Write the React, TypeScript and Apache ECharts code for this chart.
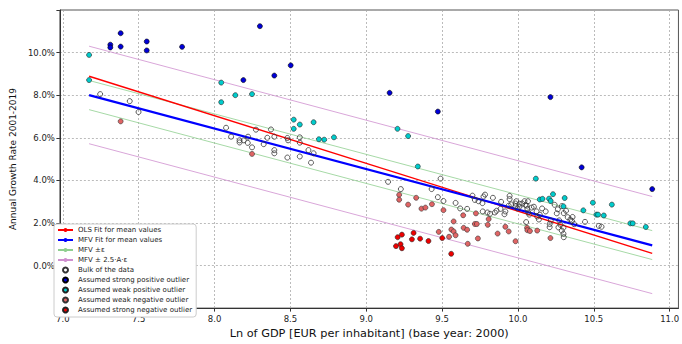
import React, { useEffect, useRef } from 'react';
import * as echarts from 'echarts';

const xTickValues = [7.0, 7.5, 8.0, 8.5, 9.0, 9.5, 10.0, 10.5, 11.0];

const fitX = [7.173, 10.885];
const olsY = [8.89, 0.57];
const mfvY = [8.0, 0.95];
const mfvPlusEpsY = [8.69, 1.64];
const mfvMinusEpsY = [7.32, 0.28];
const mfvPlusBandY = [10.3, 3.24];
const mfvMinusBandY = [5.72, -1.32];

const bulkPoints: [number, number][] = [
  [7.246, 8.05], [7.441, 7.72], [7.499, 7.21], [8.076, 6.47], [8.109, 6.05], [8.165, 5.88],
  [8.165, 5.78], [8.193, 5.88], [8.221, 6.05], [8.219, 5.76], [8.247, 5.55], [8.273, 6.38],
  [8.324, 5.70], [8.348, 6.0], [8.372, 6.39], [8.394, 6.05], [8.394, 5.42], [8.394, 5.27],
  [8.48, 5.99], [8.485, 5.88], [8.48, 5.07], [8.562, 6.02], [8.562, 5.77], [8.562, 5.12],
  [8.619, 5.42], [8.653, 5.27], [8.636, 4.83],
  [9.144, 3.93], [9.228, 3.59], [9.431, 3.59], [9.472, 3.21], [9.49, 4.08], [9.509, 3.03],
  [9.589, 2.94], [9.619, 2.68], [9.665, 2.66],
  [9.7, 3.28], [9.716, 3.08], [9.74, 3.02], [9.766, 2.93], [9.773, 3.24], [9.783, 3.33],
  [9.768, 2.54], [9.799, 2.49], [9.816, 2.43], [9.835, 3.18], [9.848, 2.49], [9.859, 2.57],
  [9.889, 2.99], [9.885, 2.66], [9.911, 2.41], [9.917, 2.54], [9.945, 3.27], [9.945, 3.12],
  [9.939, 2.81], [9.956, 2.87], [9.984, 2.91], [9.984, 2.78], [9.989, 3.02], [9.997, 2.68],
  [10.01, 2.9], [10.01, 2.76], [10.028, 2.91], [10.043, 3.02], [10.049, 2.84], [10.058, 2.81],
  [10.062, 2.66], [10.066, 3.02], [10.068, 2.49], [10.075, 2.39], [10.054, 2.04], [10.09, 2.72],
  [10.105, 2.76], [10.123, 2.54], [10.127, 2.3], [10.138, 2.16], [10.144, 2.39], [10.159, 2.68],
  [10.183, 2.54], [10.209, 1.8], [10.209, 1.95], [10.216, 2.11], [10.242, 2.85], [10.256, 2.45],
  [10.263, 2.64], [10.289, 2.79], [10.272, 2.12], [10.28, 1.91], [10.267, 1.79], [10.289, 1.64],
  [10.3, 1.49], [10.302, 1.33], [10.3, 1.78], [10.302, 2.46], [10.317, 2.57], [10.328, 2.27],
  [10.345, 2.16], [10.36, 2.28], [10.356, 2.09], [10.371, 1.94], [10.442, 2.05], [10.533, 1.86],
  [10.551, 1.82],
];

const strongPositivePoints: [number, number][] = [
  [7.313, 10.37], [7.313, 10.24], [7.381, 10.91], [7.381, 10.28], [7.553, 10.52], [7.553, 10.1],
  [7.786, 10.27], [8.19, 8.71], [8.299, 11.24], [8.394, 8.92], [8.502, 9.4], [9.154, 8.11],
  [9.472, 7.23], [10.214, 7.91], [10.42, 4.61], [10.885, 3.59],
];

const weakPositivePoints: [number, number][] = [
  [7.173, 9.89], [7.173, 8.71], [8.044, 8.59], [8.044, 7.67], [8.137, 8.0], [8.247, 8.05],
  [8.522, 6.85], [8.522, 6.42], [8.562, 6.62], [8.653, 6.73], [8.688, 5.93], [8.723, 5.91],
  [8.787, 6.02], [9.206, 6.42], [9.276, 6.08], [9.34, 4.65], [10.118, 4.08], [10.144, 3.1],
  [10.162, 3.13], [10.205, 3.14], [10.216, 3.03], [10.231, 3.35], [10.308, 3.17], [10.3, 2.78],
  [10.431, 2.59], [10.494, 2.95], [10.517, 2.39], [10.528, 2.39], [10.566, 2.35], [10.619, 2.86],
  [10.741, 1.98], [10.757, 1.98], [10.843, 1.81],
];

const weakNegativePoints: [number, number][] = [
  [7.381, 6.77], [8.247, 5.24], [9.217, 3.32], [9.217, 3.09], [9.276, 2.86], [9.329, 3.18],
  [9.364, 2.67], [9.39, 2.72], [9.433, 2.88], [9.509, 2.6], [9.576, 2.07], [9.478, 1.58],
  [9.546, 1.35], [9.561, 1.69], [9.576, 1.6], [9.589, 1.42], [9.639, 2.36], [9.642, 1.77],
  [9.665, 1.68], [9.669, 1.02], [9.723, 2.45], [9.716, 1.95], [9.729, 1.95], [9.736, 1.27],
  [9.807, 2.18], [9.801, 1.91], [9.866, 1.5], [9.917, 1.82], [9.939, 1.6], [9.984, 1.14],
  [10.06, 1.77], [10.062, 1.66], [10.079, 1.62], [10.127, 1.64], [10.214, 1.29],
];

const strongNegativePoints: [number, number][] = [
  [9.207, 1.33], [9.235, 1.45], [9.312, 1.53], [9.301, 1.23], [9.355, 1.26], [9.41, 1.15],
  [9.196, 0.91], [9.226, 1.0], [9.235, 0.81], [9.501, 1.29], [9.56, 0.55],
];

const FONT = 'DejaVu Sans';

function pairs(xs: number[], ys: number[]) {
  return xs.map((x, i) => [x, ys[i]]);
}

function lineSeries(name: string, ys: number[], color: string, width: number, z: number) {
  return {
    type: 'line',
    name,
    data: pairs(fitX, ys),
    symbol: 'none',
    lineStyle: { color, width },
    itemStyle: { color },
    z,
    silent: true,
  };
}

function scatterSeries(name: string, data: [number, number][], fill: string, edge: string, edgeWidth: number) {
  return {
    type: 'scatter',
    name,
    data,
    symbol: 'circle',
    symbolSize: 5,
    itemStyle: { color: fill, borderColor: edge, borderWidth: edgeWidth, opacity: 1 },
    z: 5,
    silent: true,
  };
}

export default function App() {
  const ref = useRef<HTMLDivElement>(null);
  useEffect(() => {
    const chart = echarts.init(ref.current!, null, { renderer: 'svg' });
    const names = {
      ols: 'OLS Fit for mean values',
      mfv: 'MFV Fit for mean values',
      eps: 'MFV ±ε',
      band: 'MFV ± 2.5·A·ε',
      bulk: 'Bulk of the data',
      sp: 'Assumed strong positive outlier',
      wp: 'Assumed weak positive outlier',
      wn: 'Assumed weak negative outlier',
      sn: 'Assumed strong negative outlier',
    };
    const option: any = {
      animation: false,
      backgroundColor: '#ffffff',
      textStyle: { fontFamily: FONT },
      grid: {
        left: 52,
        right: 1,
        top: 10,
        bottom: 24,
        show: true,
        borderColor: '#555',
        borderWidth: 1,
        backgroundColor: 'transparent',
      },
      xAxis: {
        type: 'value',
        min: 6.9806,
        max: 11.058,
        name: 'Ln of GDP [EUR per inhabitant] (base year: 2000)',
        nameLocation: 'middle',
        nameGap: 11,
        nameTextStyle: { fontSize: 11.3, color: '#111', fontFamily: FONT, verticalAlign: 'top' },
        axisLine: { show: true, onZero: false, lineStyle: { color: '#333', width: 1 } },
        axisTick: { show: true, length: 3.5, customValues: xTickValues, lineStyle: { color: '#333' } },
        axisLabel: {
          customValues: xTickValues,
          formatter: (v: number) => v.toFixed(1),
          fontSize: 8.5,
          color: '#222',
          fontFamily: FONT,
          margin: 6,
        },
        splitLine: { show: true, lineStyle: { color: '#aaa', width: 0.8, type: [2, 2] } },
      },
      yAxis: {
        type: 'value',
        min: -2,
        max: 12,
        interval: 2,
        name: 'Annual Growth Rate 2001-2019',
        nameLocation: 'middle',
        nameGap: 32,
        nameTextStyle: { fontSize: 9, color: '#111', fontFamily: FONT },
        axisLine: { show: true, onZero: false, lineStyle: { color: '#333', width: 1 } },
        axisTick: { show: true, length: 3.5, lineStyle: { color: '#333' } },
        axisLabel: {
          formatter: (v: number) => (v <= -2 || v >= 12 ? '' : v.toFixed(1) + '%'),
          fontSize: 8.5,
          color: '#222',
          fontFamily: FONT,
          margin: 5,
        },
        splitLine: { show: true, lineStyle: { color: '#aaa', width: 0.8, type: [2, 2] } },
      },
      legend: {
        orient: 'vertical',
        left: 54,
        top: 224,
        padding: [1, 4, 2, 3],
        itemGap: 0,
        itemWidth: 15,
        itemHeight: 5,
        backgroundColor: '#ffffff',
        borderColor: '#cccccc',
        borderWidth: 1,
        borderRadius: 3,
        textStyle: { fontSize: 7, lineHeight: 10, color: '#222', fontFamily: FONT },
        data: [
          { name: names.ols },
          { name: names.mfv },
          { name: names.eps },
          { name: names.band },
          { name: names.bulk, icon: 'circle' },
          { name: names.sp, icon: 'circle' },
          { name: names.wp, icon: 'circle' },
          { name: names.wn, icon: 'circle' },
          { name: names.sn, icon: 'circle' },
        ],
      },
      series: [
        lineSeries(names.band, mfvPlusBandY, '#cf8fcf', 0.8, 2),
        lineSeries(names.band, mfvMinusBandY, '#cf8fcf', 0.8, 2),
        lineSeries(names.eps, mfvPlusEpsY, '#8fcf8f', 0.8, 2),
        lineSeries(names.eps, mfvMinusEpsY, '#8fcf8f', 0.8, 2),
        lineSeries(names.ols, olsY, '#ff0000', 1.4, 3),
        lineSeries(names.mfv, mfvY, '#0000ff', 2.3, 3),
        scatterSeries(names.bulk, bulkPoints, 'rgba(255,255,255,0)', '#333333', 0.8),
        scatterSeries(names.sp, strongPositivePoints, '#0000d8', '#000000', 0.6),
        scatterSeries(names.wp, weakPositivePoints, '#00cccc', '#222222', 0.6),
        scatterSeries(names.wn, weakNegativePoints, '#e06464', '#333333', 0.6),
        scatterSeries(names.sn, strongNegativePoints, '#ee0000', '#222222', 0.6),
      ],
    };
    chart.setOption(option);
    return () => chart.dispose();
  }, []);
  return (
    <div
      ref={ref}
      style={{ position: 'fixed', left: 0, top: 0, width: 682, height: 344 }}
    />
  );
}
